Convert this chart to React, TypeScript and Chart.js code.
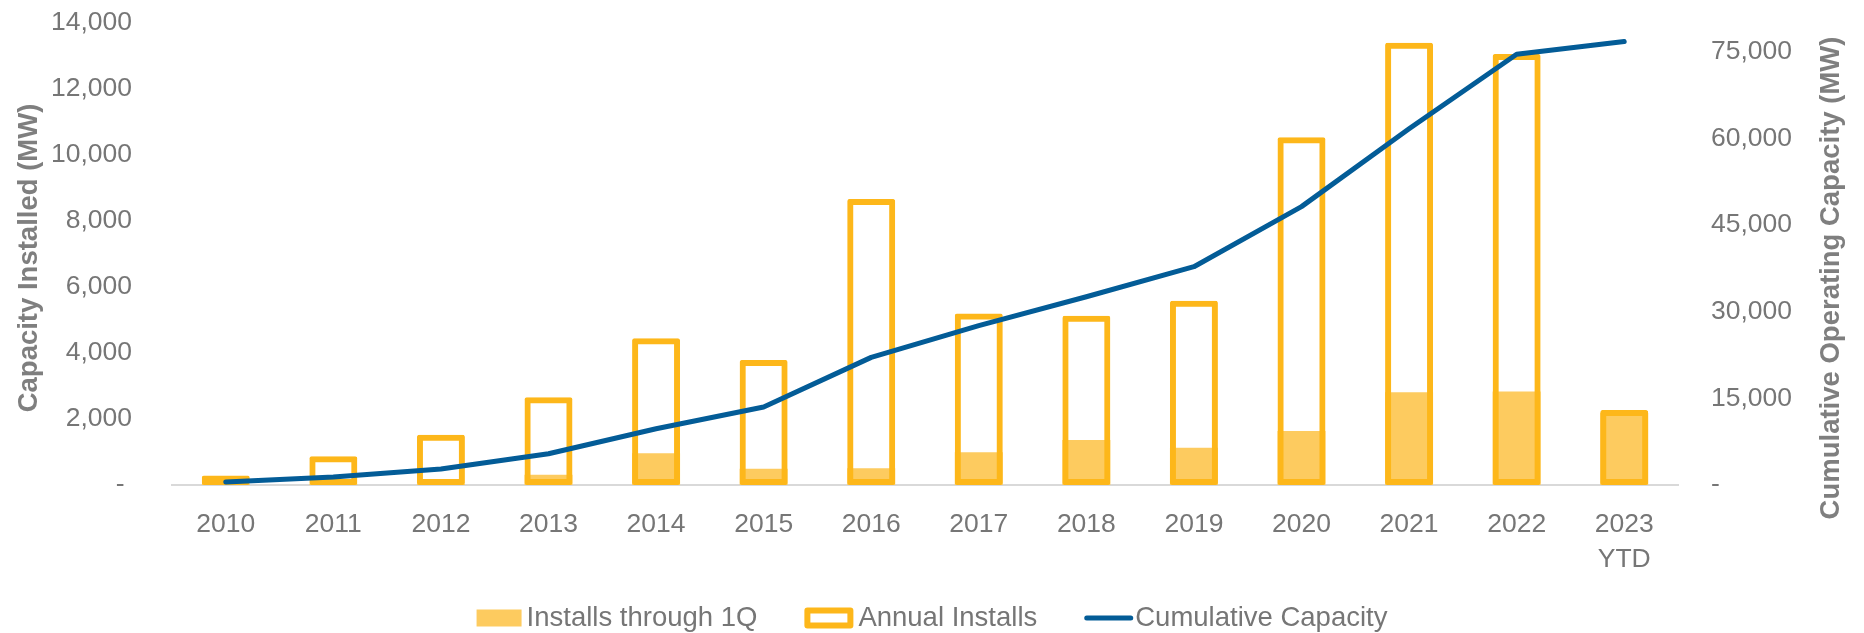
import React, { useEffect, useRef } from "react";
import { Chart, registerables } from "chart.js";

Chart.register(...registerables);

// ---- data ----
const categories: (string | string[])[] = [
  "2010", "2011", "2012", "2013", "2014", "2015", "2016",
  "2017", "2018", "2019", "2020", "2021", "2022", ["2023", "YTD"],
];
const installsThrough1Q = [30, 40, 40, 310, 960, 490, 510, 990, 1360, 1130, 1640, 2810, 2830, 2180];
const annualInstalls = [290, 870, 1520, 2660, 4450, 3790, 8670, 5200, 5130, 5580, 10540, 13400, 13060, 2270];
const cumulativeCapacity = [500, 1390, 2770, 5420, 9750, 13500, 22100, 27600, 32600, 37800, 48200, 61700, 74600, 76800];
const seriesLabels = ["Installs through 1Q", "Annual Installs", "Cumulative Capacity"];
const axisTitles = ["Capacity Installed (MW)", "Cumulative Operating Capacity (MW)"];
const leftTickValues = [0, 2000, 4000, 6000, 8000, 10000, 12000, 14000];
const rightTickValues = [0, 15000, 30000, 45000, 60000, 75000];
const leftMax = 14000;
const rightMax = 80000;

// ---- styles ----
const FONT = '"Liberation Sans", Arial, sans-serif';
const FILL = "#FDCB5F";
const OUTLINE = "#FDB71A";
const LINE = "#035C97";
const TICK = "#767676";
const TITLE = "#7F7F7F";

const fmt = (v: number, dash: string) => (v === 0 ? dash : v.toLocaleString("en-US"));

const axisTitlePlugin = {
  id: "axisTitlesCustom",
  afterDraw(chart: any) {
    const { ctx, chartArea } = chart;
    const yL = chart.scales.y;
    const yR = chart.scales.y1;
    const mid = (chartArea.top + chartArea.bottom) / 2;
    const draw = (text: string, x: number, y: number) => {
      ctx.save();
      ctx.font = `bold 27.5px ${FONT}`;
      ctx.fillStyle = TITLE;
      ctx.textAlign = "center";
      ctx.textBaseline = "middle";
      ctx.translate(x, y);
      ctx.rotate(-Math.PI / 2);
      ctx.fillText(text, 0, 0);
      ctx.restore();
    };
    draw(axisTitles[0], yL.left + 29, mid + 4);
    draw(axisTitles[1], yR.right - 33, mid + 24);
  },
};

// custom legend drawn at the bottom, centred on the canvas
const legendPlugin = {
  id: "legendCustom",
  afterDraw(chart: any) {
    const { ctx, width } = chart;
    const y = chart.chartArea.bottom + 133;
    const kinds = ["fill", "outline", "line"];
    const markW = [45, 49, 49];
    const markGap = [5, 5, 2];
    const itemGap = 47;
    ctx.save();
    ctx.font = `27.5px ${FONT}`;
    const textW = seriesLabels.map((t) => ctx.measureText(t).width);
    const total =
      markW.reduce((a, b) => a + b, 0) +
      markGap.reduce((a, b) => a + b, 0) +
      textW.reduce((a, b) => a + b, 0) +
      itemGap * (seriesLabels.length - 1);
    let x = width / 2 - total / 2;
    seriesLabels.forEach((label, i) => {
      const k = kinds[i];
      if (k === "fill") {
        ctx.fillStyle = FILL;
        ctx.fillRect(x, y - 8.5, 45, 17);
      } else if (k === "outline") {
        ctx.fillStyle = "#FFFFFF";
        ctx.fillRect(x + 3, y - 7.5, 43, 15);
        ctx.strokeStyle = OUTLINE;
        ctx.lineWidth = 6;
        ctx.lineJoin = "round";
        ctx.strokeRect(x + 3, y - 7.5, 43, 15);
      } else {
        ctx.strokeStyle = LINE;
        ctx.lineWidth = 5;
        ctx.lineCap = "round";
        ctx.beginPath();
        ctx.moveTo(x + 2.5, y);
        ctx.lineTo(x + markW[i] - 2.5, y);
        ctx.stroke();
      }
      x += markW[i] + markGap[i];
      ctx.fillStyle = TICK;
      ctx.textAlign = "left";
      ctx.textBaseline = "middle";
      ctx.fillText(label, x, y);
      x += textW[i] + itemGap;
    });
    ctx.restore();
  },
};

export default function App() {
  const canvasRef = useRef<HTMLCanvasElement | null>(null);

  useEffect(() => {
    if (!canvasRef.current) return;
    const chart = new Chart(canvasRef.current, {
      type: "bar",
      data: {
        labels: categories as any,
        datasets: [
          {
            type: "bar",
            label: seriesLabels[0],
            data: installsThrough1Q,
            backgroundColor: FILL,
            borderWidth: 0,
            grouped: false,
            order: 2,
            yAxisID: "y",
            barPercentage: 0.446,
            categoryPercentage: 1,
          } as any,
          {
            type: "bar",
            label: seriesLabels[1],
            data: annualInstalls,
            backgroundColor: "rgba(255,255,255,0)",
            borderColor: OUTLINE,
            borderWidth: 6,
            borderSkipped: false,
            borderRadius: 2,
            grouped: false,
            order: 1,
            yAxisID: "y",
            barPercentage: 0.446,
            categoryPercentage: 1,
          } as any,
          {
            type: "line",
            label: seriesLabels[2],
            data: cumulativeCapacity,
            borderColor: LINE,
            backgroundColor: LINE,
            borderWidth: 5,
            pointRadius: 0,
            tension: 0,
            borderCapStyle: "round",
            borderJoinStyle: "round",
            order: 0,
            yAxisID: "y1",
          } as any,
        ],
      },
      options: {
        responsive: true,
        maintainAspectRatio: false,
        animation: false,
        layout: { padding: { top: 23, left: 0, right: 0, bottom: 53 } },
        scales: {
          x: {
            grid: { display: false, drawTicks: false },
            border: { display: true, color: "#D9D9D9", width: 2 },
            ticks: {
              color: TICK,
              font: { family: FONT, size: 26.5, lineHeight: 1.32 },
              padding: 22,
              maxRotation: 0,
              autoSkip: false,
            },
            afterFit: (s: any) => {
              s.height = 95;
            },
          },
          y: {
            position: "left",
            min: 0,
            max: leftMax,
            grid: { display: false, drawTicks: false },
            border: { display: false },
            afterBuildTicks: (s: any) => {
              s.ticks = leftTickValues.map((v) => ({ value: v }));
            },
            ticks: {
              padding: 40,
              color: TICK,
              font: { family: FONT, size: 26.5 },
              callback: (v: any) => fmt(Number(v), "- "),
            },
            afterFit: (s: any) => {
              s.width = 172;
              s.paddingTop = 0;
              s.paddingBottom = 0;
            },
          },
          y1: {
            position: "right",
            min: 0,
            max: rightMax,
            grid: { display: false, drawTicks: false },
            border: { display: false },
            afterBuildTicks: (s: any) => {
              s.ticks = rightTickValues.map((v) => ({ value: v }));
            },
            ticks: {
              padding: 33,
              color: TICK,
              font: { family: FONT, size: 26.5 },
              callback: (v: any) => fmt(Number(v), "-"),
            },
            afterFit: (s: any) => {
              s.width = 186;
              s.paddingTop = 0;
              s.paddingBottom = 0;
            },
          },
        },
        plugins: {
          tooltip: { enabled: false },
          legend: { display: false },
        },
      } as any,
      plugins: [axisTitlePlugin, legendPlugin],
    });
    return () => chart.destroy();
  }, []);

  return (
    <div style={{ position: "fixed", left: 0, top: 0, width: "1864px", height: "633px", background: "#fff" }}>
      <canvas ref={canvasRef} />
    </div>
  );
}
